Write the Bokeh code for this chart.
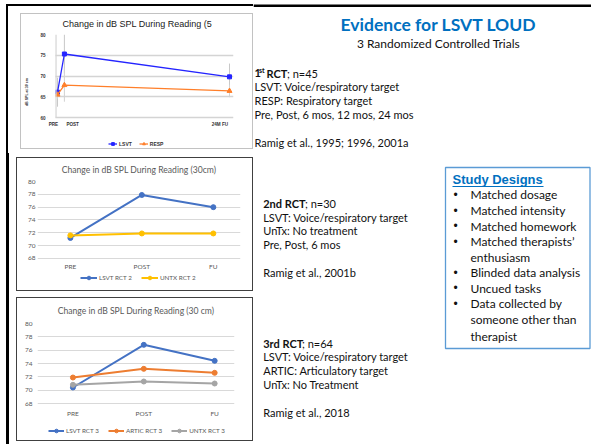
from bokeh.plotting import figure
from bokeh.models import Range1d, Legend, LegendItem, FixedTicker, InlineStyleSheet, BoxAnnotation
from bokeh.embed import file_html
from bokeh.resources import INLINE
from bokeh.core.properties import value

# ---------------- data ----------------
# RCT 1 (x in months after baseline)
rct1_months = [0, 1, 25]
rct1_tick_pos = [-0.6, 2.2, 23.6]
rct1_tick_labels = ["PRE", "POST", "24M FU"]
rct1_lsvt = [66.1, 75.3, 69.8]
rct1_resp = [65.5, 67.8, 66.4]
rct1_lsvt_err = [3.5, 4.7, 3.2]
rct1_resp_err = [1.0, 4.0, 1.5]
rct1_yticks = [60, 65, 70, 75, 80]

# RCT 2
rct2_cats = ["PRE", "POST", "FU"]
rct2_lsvt = [71.2, 77.9, 76.0]
rct2_untx = [71.6, 71.9, 71.9]

# RCT 3
rct3_cats = ["PRE", "POST", "FU"]
rct3_lsvt = [70.4, 76.8, 74.4]
rct3_artic = [71.9, 73.2, 72.6]
rct3_untx = [70.8, 71.3, 71.0]

excel_yticks = [68, 70, 72, 74, 76, 78, 80]

LW = 253
BODY = "Lato"
ARIAL = "Liberation Sans"


def deco_css(before, after):
    return InlineStyleSheet(css=(
        ":host::before { content: ''; position: absolute; box-sizing: border-box; "
        "pointer-events: none; z-index: 5; " + before + " }\n"
        ":host::after { content: ''; position: absolute; box-sizing: border-box; "
        "pointer-events: none; z-index: 6; " + after + " }\n"))


def place(left, top):
    return {"position": "absolute", "left": f"{left}px", "top": f"{top}px"}


def base_fig(h, xr, yr, ml, mr, mt, mb, css, top):
    p = figure(width=LW, height=h, x_range=xr, y_range=yr,
               output_backend="svg", toolbar_location=None,
               min_border_left=ml, min_border_right=mr,
               min_border_top=mt, min_border_bottom=mb,
               stylesheets=[css], styles=place(0, top))
    p.outline_line_color = None
    p.background_fill_color = "white"
    p.border_fill_color = "white"
    p.xgrid.visible = False
    for ax in (p.xaxis[0], p.yaxis[0]):
        ax.axis_line_color = None
        ax.major_tick_line_color = None
        ax.minor_tick_line_color = None
        ax.major_tick_out = 0
        ax.major_tick_in = 0
        ax.minor_tick_out = 0
        ax.minor_tick_in = 0
    return p


# ---------------- chart 1 ----------------
css1 = deco_css("left: 6px; top: 4px; right: 0px; bottom: 0px; "
                "border-left: 2.5px solid #000; border-top: 2.5px solid #000;",
                "left: 20px; top: 13px; width: 233px; height: 136px; "
                "border: 1px solid #c2c2c2;")
X1_START, X1_AXIS, X1_END = -1.456, -0.3, 25.58
# frame runs below the 60 dB line to leave room for tick labels and legend
p1 = base_fig(153, Range1d(X1_START, X1_END), Range1d(52.29, 80), 47, 20, 34, 4, css1, 0)
p1.title.text = "Change in dB SPL During Reading (5"
p1.title.align = "left"
p1.title.offset = 15
p1.title.standoff = 12
p1.title.text_font = ARIAL
p1.title.text_font_size = "9px"
p1.title.text_font_style = "normal"
p1.title.text_color = "#1a1a1a"

p1.xaxis.ticker = FixedTicker(ticks=rct1_tick_pos)
p1.xaxis.major_label_overrides = dict(zip(rct1_tick_pos, rct1_tick_labels))
p1.xaxis.fixed_location = rct1_yticks[0]
p1.yaxis.ticker = FixedTicker(ticks=rct1_yticks)
p1.ygrid.ticker = FixedTicker(ticks=rct1_yticks)
p1.ygrid.grid_line_color = "#d4d4d4"
p1.ygrid.grid_line_width = 1.7
for ax in (p1.xaxis[0], p1.yaxis[0]):
    ax.major_label_text_font = ARIAL
    ax.major_label_text_font_size = "4.6px"
    ax.major_label_text_font_style = "bold"
    ax.major_label_text_color = "#333333"
p1.xaxis.major_label_standoff = 4
p1.yaxis.major_label_standoff = 2
p1.yaxis.axis_label = "dB SPL at 30 cm"
p1.yaxis.axis_label_text_font = ARIAL
p1.yaxis.axis_label_text_font_size = "3.6px"
p1.yaxis.axis_label_text_font_style = "bold"
p1.yaxis.axis_label_text_color = "#333333"
p1.yaxis.axis_label_standoff = 8
# keep the gridlines starting at the value axis, and draw the value-axis line
p1.add_layout(BoxAnnotation(left=X1_START, right=X1_AXIS, bottom=59, top=81,
                            fill_color="white", fill_alpha=1, line_color=None, level="glyph"))
p1.add_layout(BoxAnnotation(left=X1_AXIS, right=X1_AXIS + 0.17, bottom=rct1_yticks[0],
                            top=rct1_yticks[-1], fill_color="#d4d4d4", fill_alpha=1,
                            line_color=None, level="glyph"))

p1.segment(x0=rct1_months, x1=rct1_months,
           y0=[v - e for v, e in zip(rct1_lsvt, rct1_lsvt_err)],
           y1=[v + e for v, e in zip(rct1_lsvt, rct1_lsvt_err)],
           line_color="#c8c8c8", line_width=1)
p1.segment(x0=rct1_months, x1=rct1_months,
           y0=[v - e for v, e in zip(rct1_resp, rct1_resp_err)],
           y1=[v + e for v, e in zip(rct1_resp, rct1_resp_err)],
           line_color="#d2d2d2", line_width=1)
c_lsvt1 = "#2424ff"
c_resp1 = "#ff7f2a"
l1a = p1.line(rct1_months, rct1_lsvt, line_color=c_lsvt1, line_width=1.3)
s1a = p1.scatter(rct1_months, rct1_lsvt, marker="square", size=4, color=c_lsvt1)
l1b = p1.line(rct1_months, rct1_resp, line_color=c_resp1, line_width=1.3)
s1b = p1.scatter(rct1_months, rct1_resp, marker="triangle", size=5, color=c_resp1)
leg1 = Legend(items=[LegendItem(label="LSVT", renderers=[l1a, s1a]),
                     LegendItem(label="RESP", renderers=[l1b, s1b])],
              location=(61, 2), orientation="horizontal",
              glyph_width=9, glyph_height=7, label_height=7, label_width=1,
              label_standoff=2, spacing=7, padding=0, margin=0,
              border_line_color=None, background_fill_alpha=0,
              label_text_font=ARIAL, label_text_font_size="5px",
              label_text_font_style="bold", label_text_color="#333333")
p1.add_layout(leg1, "center")


def excel_chart(h, top, xr, ystart, mr, mt, title, standoff, ystandoff, xstandoff,
                cats, series, leg_loc, glyph_w, spacing, css):
    p = base_fig(h, xr, Range1d(ystart, 80), 37, mr, mt, 4, css, top)
    p.title.text = title
    p.title.align = "center"
    p.title.standoff = standoff
    p.title.text_font = BODY
    p.title.text_font_size = "8.6px"
    p.title.text_font_style = "normal"
    p.title.text_color = "#595959"
    xs = list(range(len(cats)))
    p.xaxis.ticker = FixedTicker(ticks=xs)
    p.xaxis.major_label_overrides = dict(zip(xs, cats))
    p.xaxis.fixed_location = excel_yticks[0]
    p.yaxis.ticker = FixedTicker(ticks=excel_yticks)
    p.ygrid.ticker = FixedTicker(ticks=excel_yticks)
    p.ygrid.grid_line_color = "#d9d9d9"
    p.ygrid.grid_line_width = 1
    for ax in (p.xaxis[0], p.yaxis[0]):
        ax.major_label_text_font = BODY
        ax.major_label_text_font_size = "6.5px"
        ax.major_label_text_color = "#595959"
    p.yaxis.major_label_standoff = ystandoff
    p.xaxis.major_label_standoff = xstandoff
    items = []
    for name, vals, color in series:
        lr = p.line(xs, vals, line_color=color, line_width=2)
        sr = p.scatter(xs, vals, marker="circle", size=5, color=color)
        items.append(LegendItem(label=name, renderers=[lr, sr]))
    leg = Legend(items=items, location=leg_loc, orientation="horizontal",
                 glyph_width=glyph_w, glyph_height=9, label_height=9, label_width=1,
                 label_standoff=2, spacing=spacing, padding=0, margin=0,
                 border_line_color=None, background_fill_alpha=0,
                 label_text_font=BODY, label_text_font_size="6.3px",
                 label_text_color="#595959")
    p.add_layout(leg, "center")
    return p


css2 = deco_css("left: 6px; top: 0px; width: 2.5px; bottom: 0px; background: #000;",
                "left: 16px; top: 4px; width: 236.5px; height: 134px; "
                "border: 1.3px solid #404040;")
p2 = excel_chart(141, 153, Range1d(-0.46, 2.38), 63.01, 13, 28,
                 "Change in dB SPL During Reading (30cm)", 13, 2, 5,
                 rct2_cats,
                 [("LSVT RCT 2", rct2_lsvt, "#4472C4"),
                  ("UNTX RCT 2", rct2_untx, "#FFC000")],
                 (43, 8), 17, 9, css2)

css3 = deco_css("left: 6px; top: 0px; width: 2.5px; bottom: 0px; background: #000;",
                "left: 16px; top: 3px; width: 236.5px; height: 144px; "
                "border: 1.3px solid #404040;")
p3 = excel_chart(150, 294, Range1d(-0.5, 2.28), 62.45, 19, 29,
                 "Change in dB SPL During Reading (30 cm)", 16, 5, 6,
                 rct3_cats,
                 [("LSVT RCT 3", rct3_lsvt, "#4472C4"),
                  ("ARTIC RCT 3", rct3_artic, "#ED7D31"),
                  ("UNTX RCT 3", rct3_untx, "#A5A5A5")],
                 (11, 5), 16, 9, css3)

# ---------------- text panel ----------------
TW = 591 - LW
pt = figure(width=TW, height=444, x_range=Range1d(LW, 591), y_range=Range1d(444, 0),
            output_backend="svg", toolbar_location=None, min_border=0,
            x_axis_location=None, y_axis_location=None, styles=place(LW, 0))
pt.grid.visible = False
pt.outline_line_color = None
pt.quad(left=[LW], right=[591], top=[4], bottom=[6.5], fill_color="black", line_color=None)


def txt(x, y, s, size, bold=False, color="#111111", font=BODY, align="left"):
    pt.text(x=[x], y=[y], text=[s], text_font=value(font), text_font_size=value(size),
            text_font_style="bold" if bold else "normal", text_color=color,
            text_align=align, text_baseline="middle")


txt(438, 24, "Evidence for LSVT LOUD", "17.5px", bold=True, color="#0070C0", align="center")
txt(438, 43, "3 Randomized Controlled Trials", "12px", align="center")

FS = "11px"
# block 1
txt(254, 72.7, "1", FS, bold=True)
txt(258.5, 69.8, "st", "7px", bold=True)
txt(266, 72.7, "RCT", FS, bold=True)
txt(286.5, 72.7, "; n=45", FS)
for y, s in [(86, "LSVT:  Voice/respiratory target"), (100, "RESP:  Respiratory target"),
             (114, "Pre, Post, 6 mos, 12 mos, 24 mos"), (141.7, "Ramig et al., 1995; 1996, 2001a")]:
    txt(254, y, s, FS)
# block 2
txt(262.7, 203.3, "2nd RCT", FS, bold=True)
txt(304.5, 203.3, "; n=30", FS)
for y, s in [(216.5, "LSVT:  Voice/respiratory target"), (230.3, "UnTx: No treatment"),
             (244.2, "Pre, Post, 6 mos"), (272.3, "Ramig et al., 2001b")]:
    txt(262.7, y, s, FS)
# block 3
txt(262.7, 342.7, "3rd RCT", FS, bold=True)
txt(301.5, 342.7, "; n=64", FS)
for y, s in [(356.3, "LSVT:  Voice/respiratory target"), (370.2, "ARTIC: Articulatory target"),
             (384.2, "UnTx: No Treatment"), (411.7, "Ramig et al., 2018")]:
    txt(262.7, y, s, FS)

# Study designs box
pt.quad(left=[445], right=[589.5], top=[167], bottom=[348], fill_color=None,
        line_color="#5B9BD5", line_width=1.3)
txt(452, 179, "Study Designs", "13px", bold=True, color="#0070C0", font=ARIAL)
pt.segment(x0=[452], x1=[543], y0=[186], y1=[186], line_color="#0070C0", line_width=1.2)
design_lines = [(194.3, "Matched dosage", True), (210, "Matched intensity", True),
                (225.5, "Matched homework", True), (241, "Matched therapists\u2019", True),
                (256.7, "enthusiasm", False), (272.3, "Blinded data analysis", True),
                (287.7, "Uncued tasks", True), (303.3, "Data collected by", True),
                (319.3, "someone other than", False), (335.7, "therapist", False)]
for y, s, bullet in design_lines:
    if bullet:
        txt(453, y, "\u2022", "12px", font=ARIAL)
    txt(470, y, s, "12px")

open("out.html", "w").write(file_html([p1, p2, p3, pt], INLINE))
